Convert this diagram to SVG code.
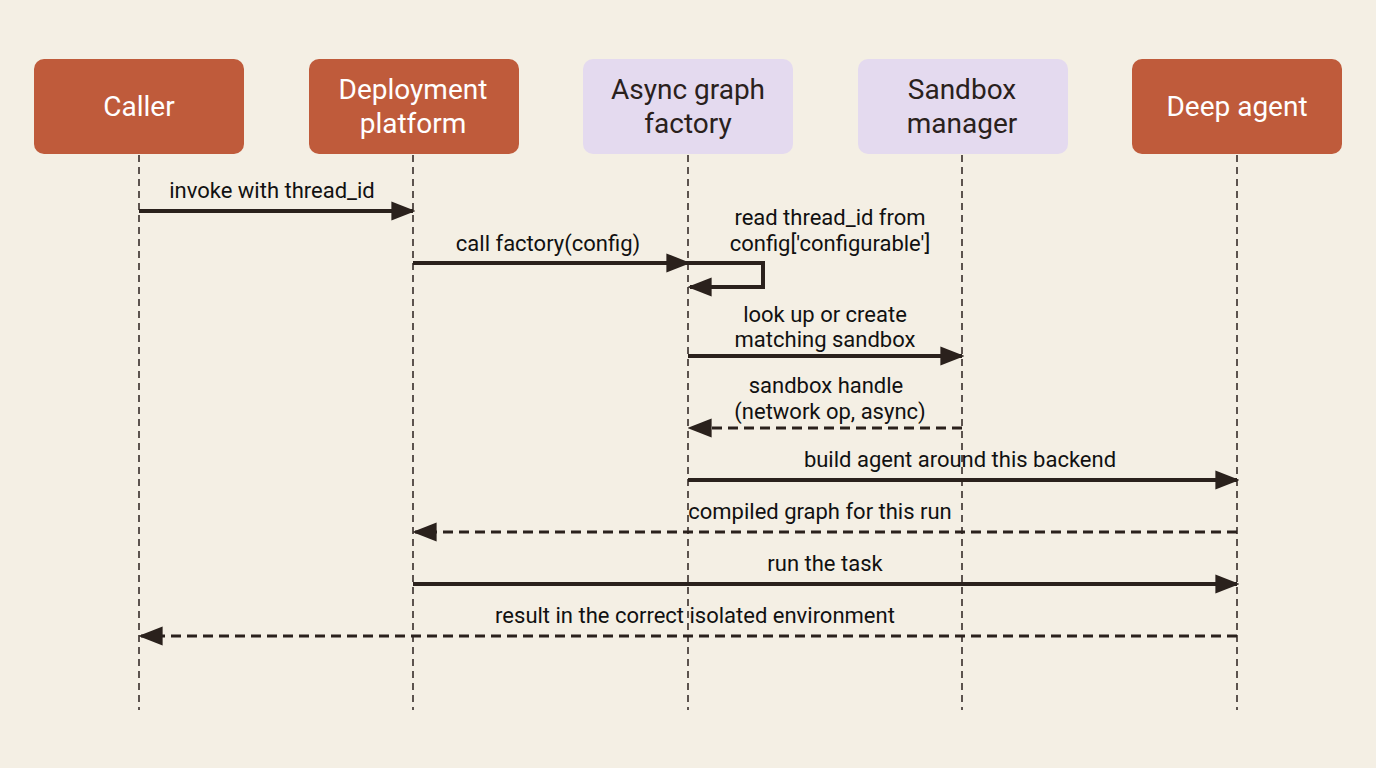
<svg xmlns="http://www.w3.org/2000/svg" width="1376" height="768" viewBox="0 0 1376 768">
<style>
.o{fill:#BF5B3B}.p{fill:#E4DAEF}
.ht{font-family:Roboto,"Noto Sans",sans-serif;font-size:28px;text-anchor:middle}
.w{fill:#fff}.d{fill:#2a211c}
.life{stroke:#2a211c;stroke-width:1.5;stroke-dasharray:7,5;fill:none}
.m{stroke:#2a211c;stroke-width:4;fill:none;marker-end:url(#a)}
.r{stroke:#2a211c;stroke-width:3;stroke-dasharray:10,6;fill:none;marker-end:url(#a)}
.l{font-family:Roboto,"Noto Sans",sans-serif;font-size:22px;text-anchor:middle;fill:#111}
</style>
<defs><marker id="a" viewBox="0 0 10 10" refX="9" refY="5" markerWidth="6" markerHeight="6" markerUnits="userSpaceOnUse" orient="auto"><path d="M0,0L10,5L0,10z" fill="#2a211c" transform="scale(1)"/></marker>
<marker id="b" viewBox="0 0 10 10" refX="9" refY="5" markerWidth="24" markerHeight="24" markerUnits="userSpaceOnUse" orient="auto"><path d="M0,1L10,5L0,9z" fill="#2a211c"/></marker></defs>
<rect width="1376" height="768" fill="#F4EFE4"/>
<g id="lifelines">
<path class="life" d="M139 155V710M413 155V710M688 155V710M962 155V710M1237 155V710"/>
</g>
<g id="caller"><rect class="o" x="34" y="59" width="210" height="95" rx="10"/><text class="ht w" x="139" y="116">Caller</text></g>
<g id="platform"><rect class="o" x="309" y="59" width="210" height="95" rx="10"/><text class="ht w" x="413" y="99">Deployment</text><text class="ht w" x="413" y="133">platform</text></g>
<g id="factory"><rect class="p" x="583" y="59" width="210" height="95" rx="10"/><text class="ht d" x="688" y="99">Async graph</text><text class="ht d" x="688" y="133">factory</text></g>
<g id="sandbox"><rect class="p" x="858" y="59" width="210" height="95" rx="10"/><text class="ht d" x="962" y="99">Sandbox</text><text class="ht d" x="962" y="133">manager</text></g>
<g id="agent"><rect class="o" x="1132" y="59" width="210" height="95" rx="10"/><text class="ht w" x="1237" y="116">Deep agent</text></g>
<g id="connectors" style="--x:0">
<path class="m" style="marker-end:url(#b)" d="M139 211H413"/>
<path class="m" style="marker-end:url(#b)" d="M413 263H688"/>
<path class="m" style="marker-end:url(#b)" d="M688 263H763V287H690"/>
<path class="m" style="marker-end:url(#b)" d="M688 356H962"/>
<path class="r" style="marker-end:url(#b)" d="M962 428H690"/>
<path class="m" style="marker-end:url(#b)" d="M688 480H1237"/>
<path class="r" style="marker-end:url(#b)" d="M1237 532H415"/>
<path class="m" style="marker-end:url(#b)" d="M413 584H1237"/>
<path class="r" style="marker-end:url(#b)" d="M1237 636H141"/>
</g>
<g id="labels">
<text class="l" x="272" y="198">invoke with thread_id</text>
<text class="l" x="548" y="251">call factory(config)</text>
<text class="l" x="830" y="225">read thread_id from</text>
<text class="l" x="830" y="251">config['configurable']</text>
<text class="l" x="825" y="322">look up or create</text>
<text class="l" x="825" y="347">matching sandbox</text>
<text class="l" x="826" y="393">sandbox handle</text>
<text class="l" x="830" y="419">(network op, async)</text>
<text class="l" x="960" y="467">build agent around this backend</text>
<text class="l" x="820" y="519">compiled graph for this run</text>
<text class="l" x="825" y="571">run the task</text>
<text class="l" x="695" y="623">result in the correct isolated environment</text>
</g>
</svg>
